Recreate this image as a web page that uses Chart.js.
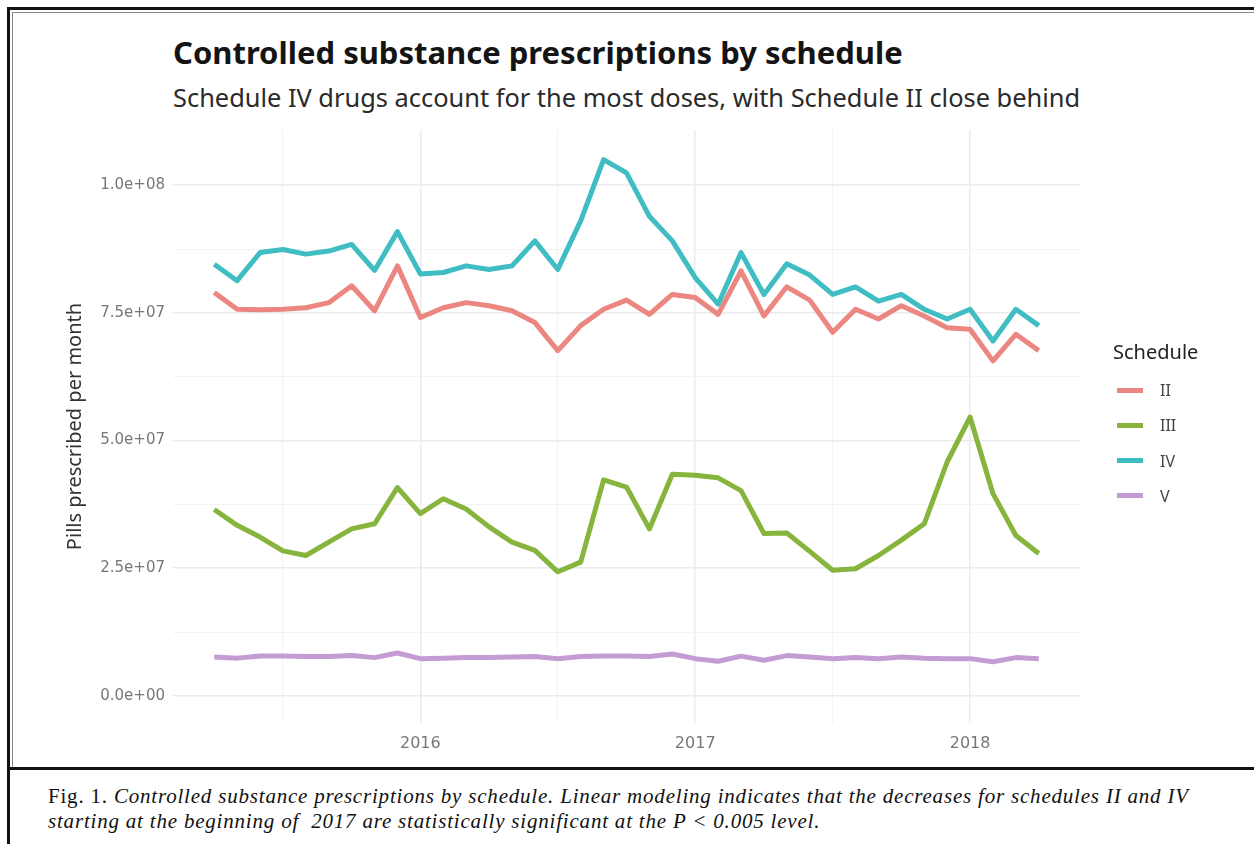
<!DOCTYPE html>
<html>
<head>
<meta charset="utf-8">
<script src="https://cdn.jsdelivr.net/npm/chart.js@4.4.1/dist/chart.umd.min.js"></script>
<style>
  html, body { margin: 0; padding: 0; background: #fff; }
  body { width: 1254px; height: 844px; position: relative; overflow: hidden; font-family: "Noto Sans", sans-serif; }
  .line { position: absolute; background: #111; }
  .thin { position: absolute; background: #8a8a8a; }
  #title { position: absolute; left: 173px; top: 33px; font-size: 31px; line-height: 38px; font-weight: bold; color: #141414; white-space: nowrap; }
  #subtitle { position: absolute; left: 173px; top: 82px; font-size: 25.4px; line-height: 30px; color: #2a2a2a; white-space: nowrap; }
  #wrap { position: absolute; left: 14px; top: 110px; width: 1240px; height: 655px; }
  #legend { position: absolute; left: 1113px; top: 340px; }
  #legend .ttl { position: absolute; left: 0; top: 0; font-size: 20px; line-height: 24px; color: #222; white-space: nowrap; }
  #legend .sw { position: absolute; left: 4px; width: 26px; height: 5px; }
  #legend .lb { position: absolute; left: 47px; font-size: 16px; line-height: 20px; color: #444; }
  #caption { position: absolute; left: 48px; top: 784px; font-family: "Liberation Serif", serif; font-size: 21px; letter-spacing: 0.8px; line-height: 25px; color: #111; white-space: pre; }
  #caption i { font-style: italic; }
</style>
</head>
<body>
<div class="line" style="left:7px;top:7px;width:1247px;height:3px;"></div>
<div class="line" style="left:7px;top:7px;width:3px;height:837px;"></div>
<div class="thin" style="left:12px;top:12px;width:1242px;height:1px;"></div>
<div class="thin" style="left:12px;top:12px;width:1px;height:755px;"></div>
<div class="line" style="left:7px;top:767px;width:1247px;height:3px;"></div>

<div id="title">Controlled substance prescriptions by schedule</div>
<div id="subtitle">Schedule IV drugs account for the most doses, with Schedule II close behind</div>
<div id="wrap"><canvas id="chart" width="1240" height="655"></canvas></div>
<div id="legend"></div>
<div id="caption">Fig. 1. <i>Controlled substance prescriptions by schedule. Linear modeling indicates that the decreases for schedules II and IV</i>
<i>starting at the beginning of  2017 are statistically significant at the P &lt; 0.005 level.</i></div>

<script>
// monthly totals, millions of pills
const months = [
  "2015-04", "2015-05", "2015-06", "2015-07", "2015-08", "2015-09", "2015-10", "2015-11", "2015-12",
  "2016-01", "2016-02", "2016-03", "2016-04", "2016-05", "2016-06", "2016-07", "2016-08", "2016-09",
  "2016-10", "2016-11", "2016-12", "2017-01", "2017-02", "2017-03", "2017-04", "2017-05", "2017-06",
  "2017-07", "2017-08", "2017-09", "2017-10", "2017-11", "2017-12", "2018-01", "2018-02", "2018-03",
  "2018-04"
];
const scheduleII = [79.0, 75.7, 75.6, 75.7, 76.0, 77.0, 80.3, 75.4, 84.2, 74.1, 76.0, 77.0, 76.4, 75.4, 73.1, 67.6, 72.5, 75.7, 77.5, 74.7, 78.6, 78.0, 74.7, 83.2, 74.4, 80.1, 77.5, 71.2, 75.7, 73.8, 76.4, 74.4, 72.1, 71.8, 65.6, 70.8, 67.6];
const scheduleIII = [36.5, 33.4, 31.1, 28.4, 27.5, 30.1, 32.7, 33.7, 40.8, 35.7, 38.6, 36.6, 33.1, 30.1, 28.5, 24.3, 26.2, 42.3, 40.9, 32.7, 43.4, 43.2, 42.7, 40.2, 31.8, 31.9, 28.3, 24.6, 24.9, 27.5, 30.5, 33.7, 45.8, 54.6, 39.6, 31.4, 27.9];
const scheduleIV = [84.5, 81.3, 86.8, 87.4, 86.5, 87.1, 88.4, 83.3, 90.9, 82.6, 82.9, 84.2, 83.5, 84.2, 89.1, 83.5, 93.0, 105.0, 102.4, 93.9, 89.1, 81.9, 76.7, 86.8, 78.6, 84.6, 82.4, 78.6, 80.1, 77.3, 78.6, 75.7, 73.8, 75.7, 69.5, 75.7, 72.5];
const scheduleV = [7.6, 7.4, 7.8, 7.8, 7.7, 7.7, 7.9, 7.5, 8.4, 7.3, 7.4, 7.5, 7.5, 7.6, 7.7, 7.3, 7.7, 7.8, 7.8, 7.7, 8.2, 7.3, 6.8, 7.8, 7.0, 7.9, 7.6, 7.3, 7.5, 7.3, 7.6, 7.4, 7.3, 7.3, 6.7, 7.5, 7.3];

const seriesNames = ["II", "III", "IV", "V"];
const seriesData = [scheduleII, scheduleIII, scheduleIV, scheduleV];
const seriesColors = ["#EC8680", "#87B43C", "#3FBDC2", "#C49CD4"];

const yearLabels = ["2016", "2017", "2018"];
const midYears = ["2015", "2016", "2017"];
const yTicks = [0, 12.5, 25, 37.5, 50, 62.5, 75, 87.5, 100];
const yLabelled = [0, 25, 50, 75, 100];

const yearTicks = yearLabels.map(y => months.indexOf(y + "-01"));
const midTicks = midYears.map(y => months.indexOf(y + "-07"));

const sci = (v) => {
  const s = (v * 1e6).toExponential(1);
  return s.replace(/e([+-])(\d)$/, "e$10$2");
};

// legend, ggplot style, to the right of the panel
const legend = document.getElementById("legend");
legend.innerHTML = '<div class="ttl">Schedule</div>';
seriesNames.forEach((name, k) => {
  const cy = 50 + k * 35.3;
  legend.innerHTML += `<div class="sw" style="top:${cy - 2.5}px;background:${seriesColors[k]}"></div>` +
    `<div class="lb" style="top:${cy - 10}px">${name}</div>`;
});

const ctx = document.getElementById("chart").getContext("2d");
new Chart(ctx, {
  type: "line",
  data: {
    datasets: seriesNames.map((name, k) => ({
      label: name,
      data: seriesData[k].map((v, i) => ({ x: i, y: v })),
      borderColor: seriesColors[k],
      backgroundColor: seriesColors[k],
      borderWidth: 5,
      borderJoinStyle: "round",
      pointRadius: 0,
      tension: 0,
      order: seriesNames.length - k,
    })),
  },
  options: {
    responsive: false,
    animation: false,
    devicePixelRatio: 1,
    layout: { padding: { top: 20, right: 174, bottom: 0, left: 0 } },
    plugins: {
      tooltip: { enabled: false },
      legend: { display: false },
    },
    scales: {
      x: {
        type: "linear",
        min: -1.8,
        max: 37.8,
        afterBuildTicks: (scale) => {
          scale.ticks = midTicks.concat(yearTicks).sort((a, b) => a - b).map(v => ({ value: v }));
        },
        afterFit: (scale) => { scale.height = 42; },
        ticks: {
          autoSkip: false,
          maxRotation: 0,
          padding: 11,
          color: "#777",
          font: { family: "DejaVu Sans", size: 16 },
          callback: (v) => {
            const j = yearTicks.indexOf(v);
            return j >= 0 ? yearLabels[j] : "";
          },
        },
        grid: {
          drawTicks: false,
          color: (c) => (yearTicks.includes(c.tick.value) ? "#ebebeb" : "#f3f3f3"),
          lineWidth: (c) => (yearTicks.includes(c.tick.value) ? 1.5 : 1),
        },
        border: { display: false },
      },
      y: {
        type: "linear",
        min: -5.3,
        max: 110.8,
        afterBuildTicks: (scale) => {
          scale.ticks = yTicks.map(v => ({ value: v }));
        },
        afterFit: (scale) => { scale.width = 159; },
        title: {
          display: true,
          text: "Pills prescribed per month",
          color: "#333",
          font: { family: "Noto Sans", size: 20 },
          padding: { top: 49, bottom: 0 },
        },
        ticks: {
          padding: 8,
          color: "#777",
          font: { family: "DejaVu Sans", size: 15 },
          callback: (v) => (yLabelled.includes(v) ? sci(v) : ""),
        },
        grid: {
          drawTicks: false,
          color: (c) => (yLabelled.includes(c.tick.value) ? "#ebebeb" : "#f3f3f3"),
          lineWidth: (c) => (yLabelled.includes(c.tick.value) ? 1.5 : 1),
        },
        border: { display: false },
      },
    },
  },
});
</script>
</body>
</html>
